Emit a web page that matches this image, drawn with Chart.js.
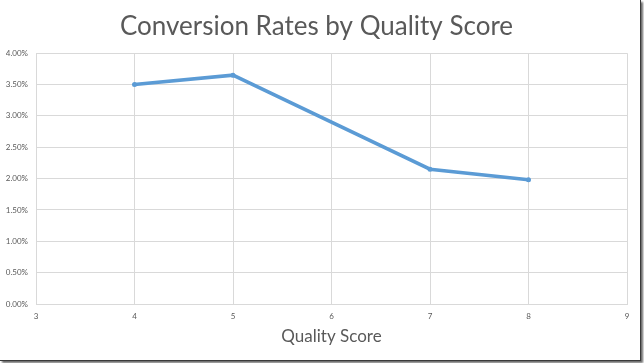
<!DOCTYPE html>
<html>
<head>
<meta charset="utf-8">
<script src="https://cdn.jsdelivr.net/npm/chart.js@4/dist/chart.umd.min.js"></script>
<style>
  html, body { margin: 0; padding: 0; background: #ffffff; }
  #frame {
    position: absolute; left: 0; top: 0;
    width: 640px; height: 360px;
    background: #ffffff;
    border-right: 1px solid #3a3a3a;
    border-bottom: 1px solid #3a3a3a;
    box-shadow: 2px 2px 2px #6a6a6a;
  }
  #c { display: block; }
</style>
</head>
<body>
<div id="frame"><canvas id="c" width="640" height="360"></canvas></div>
<script>
// Data
const qualityScores = [4, 5, 7, 8];
const conversionRates = [0.0350, 0.0365, 0.0215, 0.0198];
const xTickValues = [3, 4, 5, 6, 7, 8, 9];
const yTickValues = [0, 0.005, 0.01, 0.015, 0.02, 0.025, 0.03, 0.035, 0.04];
const chartTitle = 'Conversion Rates by Quality Score';
const xAxisTitle = 'Quality Score';

const points = qualityScores.map((q, i) => ({ x: q, y: conversionRates[i] }));
const FONT = 'Lato';
const TEXT = '#595959';
const GRID = '#d9d9d9';
const BLUE = '#5b9bd5';

new Chart(document.getElementById('c'), {
  type: 'line',
  data: {
    datasets: [{
      data: points,
      borderColor: BLUE,
      backgroundColor: BLUE,
      borderWidth: 3.5,
      pointRadius: 2.5,
      pointHoverRadius: 2.5,
      pointBorderWidth: 0,
      tension: 0,
      fill: false
    }]
  },
  options: {
    responsive: false,
    animation: false,
    events: [],
    layout: { padding: { left: 6, right: 13, top: 0, bottom: 0 } },
    plugins: {
      legend: { display: false },
      tooltip: { enabled: false },
      title: {
        display: true,
        text: chartTitle,
        color: TEXT,
        font: { family: FONT, size: 26, weight: 'normal' },
        padding: { top: 11, bottom: 11 }
      }
    },
    scales: {
      x: {
        type: 'linear',
        min: 3, max: 9,
        afterBuildTicks: (s) => { s.ticks = xTickValues.map(v => ({ value: v })); },
        afterFit: (s) => { s.height = 56; },
        grid: { color: GRID, lineWidth: 1, drawTicks: false },
        border: { color: GRID },
        ticks: {
          color: TEXT, padding: 8,
          font: { family: FONT, size: 8 },
          maxRotation: 0,
          callback: (v) => String(v)
        },
        title: {
          display: true, text: xAxisTitle, color: TEXT,
          font: { family: FONT, size: 17 },
          padding: { top: 4, bottom: 13 }
        }
      },
      y: {
        min: 0, max: 0.04,
        afterBuildTicks: (s) => { s.ticks = yTickValues.map(v => ({ value: v })); },
        afterFit: (s) => { s.width = 30; },
        grid: { color: GRID, lineWidth: 1, drawTicks: false },
        border: { display: false },
        ticks: {
          color: TEXT, padding: 8,
          font: { family: FONT, size: 8 },
          callback: (v) => (v * 100).toFixed(2) + '%'
        }
      }
    }
  }
});
</script>
</body>
</html>
